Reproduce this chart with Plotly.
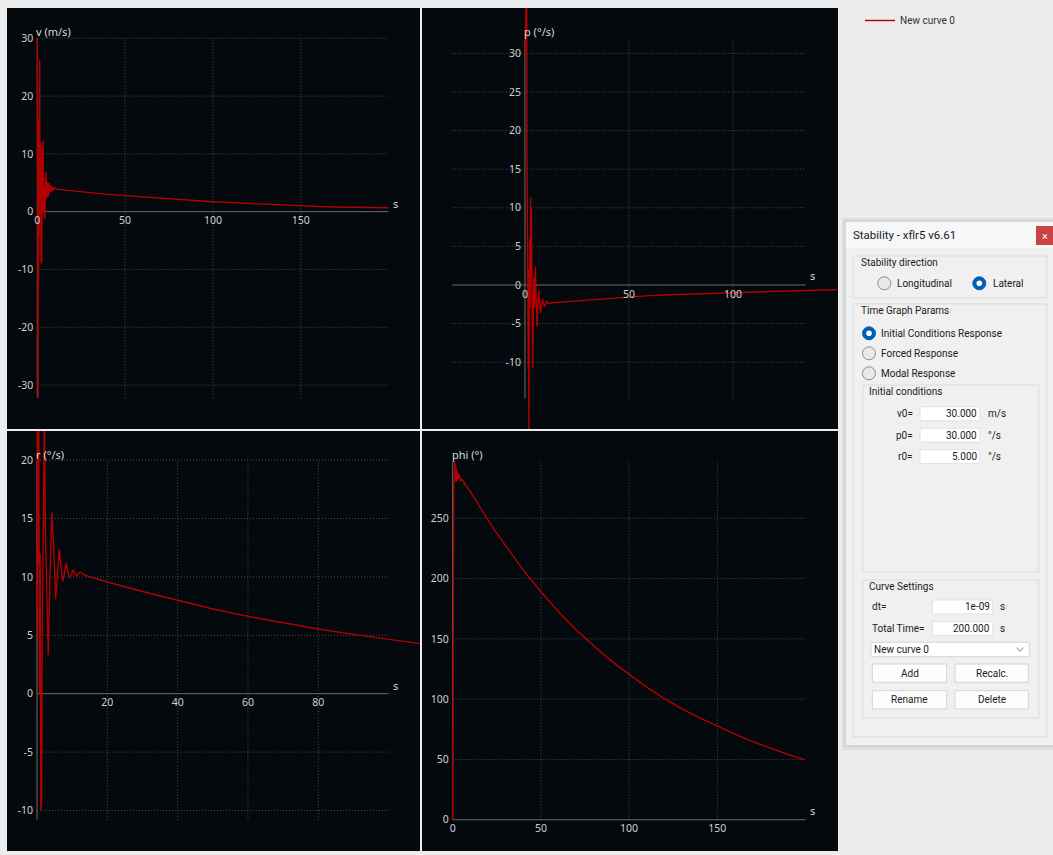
import plotly.graph_objects as go

W, H = 1053, 855

# ---- time histories (s) ----
v_t = [0, 0.15, 0.3, 0.45, 0.6, 0.75, 0.9, 1.05, 1.2, 1.35, 1.5, 1.65, 1.8, 1.95, 2.1, 2.3, 2.5, 2.7, 2.9, 3.1,
       3.3, 3.5, 3.7, 3.9, 4.1, 4.3, 4.6, 5.0, 5.4, 5.8, 6.2, 6.6, 7.0, 7.5, 8.0, 8.6, 9.2, 10, 11, 15,
       20, 30, 40, 50, 60, 70, 80, 90, 100, 110, 120, 130, 140, 150, 160, 170, 180, 190, 200]
v_val = [30, -5, 16, -32.2, 14, -12, 16, -4, 8, 26.3, 2, 10, -6, 12, -9, 5, -8.8, 3, 11, 0,
         12.3, 2, 6, -1, 4, -1.2, 3, 6.9, 2.3, 5.1, 2.6, 5.0, 3.2, 4.6, 3.4, 4.3, 3.7, 4.2, 3.9, 3.8,
         3.6, 3.3, 3.0, 2.77, 2.55, 2.35, 2.1, 1.9, 1.73, 1.58, 1.43, 1.27, 1.12, 0.99, 0.9, 0.82, 0.76, 0.72, 0.69]

p_t = [0, 0.4, 0.8, 1.0, 1.2, 1.4, 1.6, 1.75, 1.9, 2.1, 2.3, 2.5, 2.7, 2.9, 3.1, 3.4, 3.7, 4.0, 4.3, 4.6,
       5.0, 5.4, 5.9, 6.3, 6.7, 7.1, 7.5, 8.0, 8.5, 9.0, 9.5, 10.0, 10.5, 11, 13, 20, 30, 40, 50, 60,
       70, 80, 90, 100, 110, 120, 130, 140, 150]
p_val = [30, 37, 40, 16.4, -6, 9, -11, 2, -20, -4, 6, -3, 11.4, 1, 10, -3, -10.8, -4, 1, -3,
         2.4, -2, -5.4, -2, -0.7, -2.5, -3.6, -2.4, -1.8, -2.6, -2.8, -2.2, -2.1, -2.4, -2.3, -2.15, -1.95, -1.72, -1.5, -1.38,
         -1.27, -1.17, -1.08, -1.0, -0.9, -0.82, -0.74, -0.67, -0.6]

r_t = [0, 0.1, 0.3, 0.5, 0.7, 0.9, 1.1, 1.3, 1.5, 1.8, 2.1, 2.4, 2.7, 3.2, 3.7, 4.2, 4.7, 5.3, 5.8, 6.3,
       6.8, 7.3, 7.8, 8.3, 8.8, 9.3, 9.8, 10.3, 10.8, 11.3, 11.8, 12.4, 13.5, 20, 30, 40, 50, 60, 70, 80,
       90, 100, 109]
r_val = [5, 24, 11, 23, 0, 12, -10, -9.3, 5, 13, 24, 14, 9, 3.3, 10, 15.5, 13, 8.1, 10, 12.4,
         11, 9.6, 10.3, 11.2, 10.4, 9.9, 10.2, 10.6, 10.3, 10.1, 10.3, 10.4, 10.15, 9.56, 8.75, 7.97, 7.25, 6.62, 6.05, 5.54,
         5.08, 4.68, 4.28]

phi_t = [0, 0.3, 0.6, 0.9, 1.2, 1.5, 1.8, 2.1, 2.4, 2.8, 3.3, 3.8, 4.5, 5.5, 7, 10, 15, 20, 25, 30,
         35, 40, 45, 50, 60, 70, 80, 90, 100, 110, 120, 130, 140, 150, 160, 170, 180, 190, 200]
phi_val = [0, 240, 275, 285, 297, 292, 280, 292, 281, 288, 283, 286, 281, 282, 278, 272, 260, 248.5, 237.5, 227,
           217, 207, 198, 189, 172.5, 157.5, 144, 131.5, 120.5, 110, 100.5, 92, 84.5, 77.5, 71, 64.8, 59.3, 54.2, 49.5]

# ---- tick values ----
v_xticks = [0, 50, 100, 150]
v_yticks = [-30, -20, -10, 0, 10, 20, 30]
p_xticks = [0, 50, 100]
p_yticks = [-10, -5, 0, 5, 10, 15, 20, 25, 30]
r_xticks = [20, 40, 60, 80]
r_yticks = [-10, -5, 0, 5, 10, 15, 20]
phi_xticks = [0, 50, 100, 150]
phi_yticks = [0, 50, 100, 150, 200, 250]

CURVE_NAME = "New curve 0"

# ---- styling ----
CURVE = "#b30000"
BG = "#03090d"
GRID = "#4a4f55"
AXIS = "#6c6c6c"
TICK = "#cfcfcf"
LABEL = "#dadada"
FONT = "Noto Sans"
UI_FONT = "Roboto"
UI_TEXT = "#1b1b1b"


def fx(x):
    return x / W


def fy(y):
    return 1 - y / H


panels = [
    dict(t=v_t, y=v_val, box=(7, 8, 420, 429), xr=[-17.25, 217.9], yr=[-37.6, 35.24],
         ex=(0, 200), ey=(-32.2, 30), xt=v_xticks, yt=v_yticks,
         title="v (m/s)", tpos=(-1.9, 31.1), spos=(201.4, 1.5)),
    dict(t=p_t, y=p_val, box=(422, 8, 838, 429), xr=[-49.5, 150.5], yr=[-18.65, 35.88],
         ex=(-35, 135), ey=(-14.7, 31.8), xt=p_xticks, yt=p_yticks,
         title="p (°/s)", tpos=(-1.6, 32.8), spos=(136, 1.2)),
    dict(t=r_t, y=r_val, box=(7, 431, 420, 851), xr=[-8.53, 108.93], yr=[-13.47, 22.49],
         ex=(0, 100), ey=(-10.8, 20), xt=r_xticks, yt=r_yticks,
         title="r (°/s)", tpos=(-0.85, 20.46), spos=(100.7, 0.74)),
    dict(t=phi_t, y=phi_val, box=(422, 431, 838, 851), xr=[-17.4, 218.4], yr=[-25.9, 322.3],
         ex=(0, 200), ey=(0, 297), xt=phi_xticks, yt=phi_yticks,
         title="phi (°)", tpos=(-1.5, 302.7), spos=(201.4, 7.5)),
]

fig = go.Figure()
layout = {}
shapes = []
annotations = []

for i, pn in enumerate(panels):
    n = "" if i == 0 else str(i + 1)
    xn, yn = "x" + n, "y" + n
    x0, y0, x1, y1 = pn["box"]
    dx = [fx(x0), fx(x1)]
    dy = [fy(y1), fy(y0)]
    xr, yr = pn["xr"], pn["yr"]
    # paper positions of the data origin, where the axes cross
    ypos = dx[0] + (0 - xr[0]) / (xr[1] - xr[0]) * (dx[1] - dx[0])
    xpos = dy[0] + (0 - yr[0]) / (yr[1] - yr[0]) * (dy[1] - dy[0])

    layout["xaxis" + n] = dict(
        domain=dx, range=xr, anchor="free", position=xpos,
        tickmode="array", tickvals=pn["xt"], ticktext=[str(v) for v in pn["xt"]],
        showgrid=False, zeroline=False, showline=False, ticks="",
        tickfont=dict(family=FONT, size=10.5, color=TICK), ticklabelstandoff=1,
        fixedrange=True,
    )
    layout["yaxis" + n] = dict(
        domain=dy, range=yr, anchor="free", position=ypos,
        tickmode="array", tickvals=pn["yt"], ticktext=[str(v) for v in pn["yt"]],
        showgrid=False, zeroline=False, showline=False, ticks="",
        tickfont=dict(family=FONT, size=10.5, color=TICK), ticklabelstandoff=4,
        fixedrange=True,
    )

    ex0, ex1 = pn["ex"]
    ey0, ey1 = pn["ey"]
    grid_line = dict(color=GRID, width=1, dash="1px,2px")
    for yv in pn["yt"]:
        if yv != 0:
            shapes.append(dict(type="line", xref=xn, yref=yn, x0=ex0, x1=ex1, y0=yv, y1=yv,
                               line=grid_line, layer="below"))
    for xv in pn["xt"]:
        if xv != 0:
            shapes.append(dict(type="line", xref=xn, yref=yn, x0=xv, x1=xv, y0=ey0, y1=ey1,
                               line=grid_line, layer="below"))
    shapes.append(dict(type="line", xref=xn, yref=yn, x0=ex0, x1=ex1, y0=0, y1=0,
                       line=dict(color=AXIS, width=1), layer="below"))
    shapes.append(dict(type="line", xref=xn, yref=yn, x0=0, x1=0, y0=ey0, y1=ey1,
                       line=dict(color=AXIS, width=1), layer="below"))

    annotations.append(dict(xref=xn, yref=yn, x=pn["tpos"][0], y=pn["tpos"][1], text=pn["title"],
                            showarrow=False, xanchor="left", yanchor="middle",
                            font=dict(family=FONT, size=11, color=LABEL)))
    annotations.append(dict(xref=xn, yref=yn, x=pn["spos"][0], y=pn["spos"][1], text="s",
                            showarrow=False, xanchor="left", yanchor="middle",
                            font=dict(family=FONT, size=11, color=LABEL)))

    fig.add_trace(go.Scatter(
        x=pn["t"], y=pn["y"], mode="lines", xaxis=xn, yaxis=yn,
        line=dict(color=CURVE, width=1.4), name=CURVE_NAME, legendgroup="c0",
        showlegend=(i == 0), hoverinfo="skip",
    ))


# ---- stability dialog ----
def rect(x0, y0, x1, y1, fill, line=None, lw=1):
    shapes.append(dict(type="rect", xref="paper", yref="paper",
                       x0=fx(x0), x1=fx(x1), y0=fy(y1), y1=fy(y0), fillcolor=fill,
                       line=dict(color=line if line else "rgba(0,0,0,0)", width=lw if line else 0),
                       layer="above"))


def circle(cx, cy, r, fill, line=None, lw=1):
    shapes.append(dict(type="circle", xref="paper", yref="paper",
                       x0=fx(cx - r), x1=fx(cx + r), y0=fy(cy + r), y1=fy(cy - r), fillcolor=fill,
                       line=dict(color=line if line else "rgba(0,0,0,0)", width=lw if line else 0),
                       layer="above"))


def text(x, y, s, anchor="left", size=10, color=UI_TEXT):
    annotations.append(dict(xref="paper", yref="paper", x=fx(x), y=fy(y), text=s, showarrow=False,
                            xanchor=anchor, yanchor="middle",
                            font=dict(family=UI_FONT, size=size, color=color)))


def radio(cx, cy, checked):
    if checked:
        circle(cx, cy, 6.5, "#005fb8", "#005fb8")
        circle(cx, cy, 2.8, "#ffffff")
    else:
        circle(cx, cy, 6.5, "#e9e9e9", "#8c8c8c")


# window + shadow
rect(842, 218, 1053, 750, "rgba(0,0,0,0.06)")
rect(845, 221, 1056, 746, "#f0f0f0", "#c4c4c4")
rect(846, 222, 1053, 248, "#f5f7f9")
rect(1036, 226, 1053, 245, "#c94343")
text(1045, 236, "×", anchor="center", size=11, color="#ffffff")
text(851, 235, "Stability - xflr5 v6.61", size=11.5)

# stability direction
rect(853, 256, 1047, 298, "rgba(0,0,0,0)", "#dcdcdc")
text(859, 262, "Stability direction")
radio(884.3, 283.3, False)
text(895, 283.3, "Longitudinal")
radio(979.3, 283.3, True)
text(991, 283.3, "Lateral")

# time graph params
rect(853, 304, 1047, 737, "rgba(0,0,0,0)", "#dcdcdc")
text(859, 311, "Time Graph Params")
radio(869, 333.3, True)
text(879, 333.3, "Initial Conditions Response")
radio(869, 353.3, False)
text(879, 353.3, "Forced Response")
radio(869, 373.3, False)
text(879, 373.3, "Modal Response")

# initial conditions
rect(863, 385, 1039, 572, "rgba(0,0,0,0)", "#dcdcdc")
text(867, 391.7, "Initial conditions")
init_rows = [("v0=", "30.000", "m/s", 413.8), ("p0=", "30.000", "°/s", 435.2), ("r0=", "5.000", "°/s", 456.6)]
for lab, val, unit, yc in init_rows:
    text(915, yc, lab, anchor="right")
    rect(920, yc - 7, 980, yc + 7, "#ffffff", "#e2e2e2")
    text(979, yc, val, anchor="right")
    text(985.5, yc, unit)

# curve settings
rect(863, 580, 1039, 718, "rgba(0,0,0,0)", "#dcdcdc")
text(867, 586, "Curve Settings")
text(870, 606.7, "dt=")
rect(932.3, 600, 992.7, 614, "#ffffff", "#e2e2e2")
text(991.5, 606.7, "1e-09", anchor="right")
text(998, 606.7, "s")
text(870, 628.3, "Total Time=")
rect(932.3, 621.5, 992.7, 635.5, "#ffffff", "#e2e2e2")
text(991.5, 628.3, "200.000", anchor="right")
text(998, 628.3, "s")
rect(871, 642.3, 1029.3, 656.7, "#ffffff", "#d6d6d6")
text(872, 649.5, CURVE_NAME)
shapes.append(dict(type="path", xref="paper", yref="paper",
                   path="M{:.5f},{:.5f} L{:.5f},{:.5f} L{:.5f},{:.5f}".format(
                       fx(1016.5), fy(647.8), fx(1020), fy(651.2), fx(1023.5), fy(647.8)),
                   line=dict(color="#7a7a7a", width=1), layer="above"))
buttons = [("Add", 872.3, 664, 946.7, 682.3), ("Recalc.", 955, 664, 1028.3, 682.3),
           ("Rename", 872.3, 690.7, 946.7, 709), ("Delete", 955, 690.7, 1028.3, 709)]
for lab, bx0, by0, bx1, by1 in buttons:
    rect(bx0, by0, bx1, by1, "#fdfdfd", "#d3d3d3")
    text((bx0 + bx1) / 2, (by0 + by1) / 2, lab, anchor="center")

layout.update(
    width=W, height=H, autosize=False,
    margin=dict(l=0, r=0, t=0, b=0, pad=0),
    paper_bgcolor="#ececec", plot_bgcolor=BG,
    hovermode=False,
    showlegend=True,
    legend=dict(x=fx(860), y=fy(6), xanchor="left", yanchor="top", bgcolor="rgba(0,0,0,0)",
                borderwidth=0, itemwidth=30,
                font=dict(family=UI_FONT, size=10, color="#333333")),
    shapes=shapes, annotations=annotations,
)
fig.update_layout(**layout)
fig.write_html("out.html")
